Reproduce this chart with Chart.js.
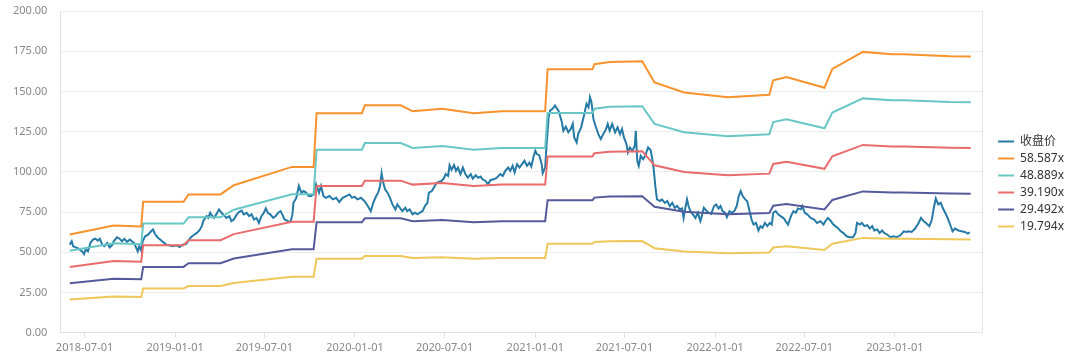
<!DOCTYPE html>
<html>
<head>
<meta charset="utf-8">
<title>PE Band</title>
<script src="https://cdn.jsdelivr.net/npm/chart.js@4.4.0/dist/chart.umd.min.js"></script>
<style>
  html, body { margin: 0; padding: 0; background: #fff; }
</style>
</head>
<body>
<canvas id="peChart" width="1080" height="361"></canvas>
<script>
// x values are day offsets from BASE_DATE
const BASE_DATE = '2018-07-01';

const tickDates = ['2018-07-01', '2019-01-01', '2019-07-01', '2020-01-01', '2020-07-01',
    '2021-01-01', '2021-07-01', '2022-01-01', '2022-07-01', '2023-01-01'];

const yTicks = [0, 25, 50, 75, 100, 125, 150, 175, 200];

const seriesNames = ['收盘价', '58.587x', '48.889x', '39.190x', '29.492x', '19.794x'];
const peMultiples = [58.587, 48.889, 39.190, 29.492, 19.794];
const seriesColors = ['#267aa6', '#f7922d', '#68c7c4', '#e96b6b', '#555a9b', '#eec65a'];

// [day, close]
const closePrice = [[-30,54.8],[-26,56.9],[-23,53.8],[-18,53.1],[-12,52.3],[-5,50.6],[-1,48.9],[2,51.7],[7,50.6],[12,55.8],[17,57.9],[22,58.5],[27,57.3],[31,58.5],[36,54.8],[40,53.8],[46,55.8],[51,53.1],[56,54.4],[59,56.9],[66,59.4],[71,58.5],[76,56.9],[81,58.5],[86,56.5],[92,57.9],[96,56.9],[101,55.8],[105,52.7],[108,50.6],[111,53.8],[115,51.1],[118,56.9],[123,60.0],[129,61.0],[135,63.1],[139,64.2],[143,61.4],[148,59.4],[154,57.9],[159,56.5],[166,54.8],[172,54.4],[179,53.8],[187,54.4],[193,53.3],[199,54.8],[206,55.2],[211,57.3],[216,59.4],[221,60.6],[228,62.1],[233,63.6],[238,66.3],[241,69.4],[245,71.4],[248,72.5],[251,71.4],[255,74.6],[258,73.1],[263,71.4],[268,73.9],[273,76.7],[278,74.6],[283,73.1],[288,71.4],[294,72.5],[298,69.4],[303,70.4],[309,73.6],[314,75.2],[319,76.0],[323,73.6],[329,74.6],[334,72.5],[339,73.6],[344,70.4],[349,71.4],[354,68.3],[359,72.5],[364,74.6],[368,77.3],[372,74.6],[377,73.6],[383,71.4],[388,72.5],[393,74.6],[398,75.6],[402,73.1],[406,70.4],[413,69.4],[418,68.9],[422,73.6],[424,80.8],[430,83.9],[435,91.3],[440,87.1],[445,88.1],[450,87.1],[455,85.0],[460,85.0],[465,86.0],[470,92.3],[476,87.1],[480,91.3],[485,85.0],[490,83.9],[497,85.0],[504,82.9],[511,83.9],[517,81.3],[524,83.9],[531,85.0],[538,86.0],[543,83.9],[548,84.6],[554,82.9],[561,83.9],[568,81.9],[575,78.8],[581,75.6],[586,80.8],[592,85.0],[596,87.1],[600,91.3],[603,99.2],[606,93.8],[610,89.2],[615,87.1],[620,83.9],[625,79.8],[631,76.7],[635,79.8],[640,77.7],[645,75.6],[651,77.7],[655,75.6],[660,76.7],[666,73.6],[671,74.6],[676,73.6],[680,74.6],[686,75.6],[691,78.8],[696,80.8],[699,87.1],[705,88.1],[709,90.2],[714,92.9],[719,93.8],[725,94.4],[730,96.4],[733,98.6],[738,97.5],[741,104.2],[745,101.3],[750,104.2],[754,100.6],[758,102.7],[763,98.6],[768,102.7],[773,98.6],[778,96.4],[784,98.6],[788,95.8],[794,97.9],[799,96.4],[804,97.1],[808,95.4],[814,94.4],[819,92.3],[824,95.0],[831,95.4],[837,96.4],[844,98.6],[849,97.5],[854,100.6],[860,102.7],[864,100.6],[869,103.8],[873,99.6],[878,104.8],[883,102.7],[888,104.8],[893,106.9],[898,103.8],[903,105.8],[907,103.3],[911,108.9],[915,113.1],[918,111.1],[923,110.4],[928,104.8],[930,99.2],[935,102.7],[938,117.3],[942,133.9],[945,138.1],[950,139.2],[955,141.3],[958,139.8],[962,138.1],[965,135.0],[969,130.8],[972,125.6],[977,128.1],[982,124.6],[987,126.7],[991,129.8],[994,121.4],[999,118.3],[1002,123.5],[1008,127.7],[1013,133.9],[1016,138.1],[1019,142.3],[1023,140.2],[1026,146.4],[1029,143.3],[1033,132.9],[1037,128.8],[1043,123.5],[1048,120.4],[1053,123.5],[1058,126.1],[1062,129.8],[1066,125.6],[1071,129.8],[1077,124.6],[1082,127.7],[1087,123.5],[1091,126.7],[1095,121.4],[1100,117.3],[1103,112.1],[1107,115.2],[1112,113.1],[1117,116.3],[1119,125.6],[1122,106.9],[1125,103.8],[1129,110.0],[1134,107.9],[1138,110.0],[1144,115.2],[1149,113.6],[1152,108.9],[1155,102.7],[1159,90.2],[1162,82.9],[1168,81.9],[1172,82.9],[1178,80.8],[1183,81.9],[1188,78.8],[1193,80.8],[1198,77.7],[1203,78.8],[1208,76.7],[1213,77.3],[1216,71.4],[1219,76.7],[1223,82.9],[1226,78.8],[1230,75.6],[1235,73.6],[1240,71.4],[1245,74.6],[1250,69.4],[1253,72.5],[1257,77.7],[1262,76.0],[1267,74.6],[1272,73.9],[1278,78.8],[1282,79.8],[1287,77.3],[1291,78.8],[1295,75.6],[1300,74.6],[1304,71.9],[1309,75.6],[1314,74.6],[1319,75.6],[1324,78.8],[1328,85.0],[1332,88.1],[1336,85.0],[1341,82.9],[1345,81.9],[1350,75.6],[1354,70.4],[1358,67.3],[1363,68.3],[1368,63.6],[1372,66.3],[1376,65.2],[1381,68.3],[1386,66.3],[1391,68.3],[1395,67.3],[1398,74.6],[1403,75.6],[1408,73.6],[1413,72.5],[1420,71.0],[1423,69.4],[1428,67.3],[1434,72.5],[1439,75.6],[1444,74.6],[1448,77.3],[1454,76.7],[1457,78.8],[1462,74.6],[1467,73.6],[1474,71.4],[1481,70.4],[1487,68.3],[1494,69.4],[1500,67.3],[1504,69.4],[1509,71.4],[1514,69.8],[1520,67.3],[1524,66.3],[1529,65.2],[1535,63.1],[1540,62.1],[1547,60.0],[1553,59.4],[1560,59.4],[1565,62.1],[1568,68.3],[1574,67.3],[1578,68.3],[1583,66.3],[1589,66.9],[1594,64.8],[1599,66.3],[1603,63.6],[1609,64.2],[1614,62.1],[1619,63.6],[1623,62.1],[1629,61.1],[1636,59.4],[1642,60.0],[1649,59.4],[1656,60.6],[1663,63.1],[1668,62.7],[1673,63.1],[1679,62.7],[1686,64.8],[1693,68.3],[1698,71.4],[1703,69.4],[1708,68.3],[1715,66.3],[1720,70.4],[1724,77.7],[1728,83.5],[1733,79.8],[1738,80.8],[1742,77.7],[1747,74.6],[1752,71.4],[1757,67.3],[1762,63.1],[1767,64.8],[1774,63.6],[1780,63.1],[1787,62.7],[1793,61.7],[1797,62.5]];

// [day, eps] - band = multiple * eps
const epsTrail = [[-30,1.043],[59,1.138],[115,1.127],[119,1.389],[201,1.389],[211,1.468],[276,1.468],[303,1.565],[421,1.760],[465,1.760],[471,2.328],[563,2.328],[569,2.413],[642,2.413],[666,2.350],[726,2.376],[790,2.328],[847,2.350],[935,2.350],[940,2.795],[1031,2.795],[1035,2.849],[1066,2.873],[1132,2.880],[1157,2.656],[1217,2.550],[1306,2.499],[1390,2.524],[1398,2.678],[1425,2.714],[1502,2.600],[1518,2.799],[1580,2.980],[1639,2.955],[1663,2.955],[1757,2.934],[1799,2.931]];

const DAY_MS = 86400000;
const baseMs = Date.parse(BASE_DATE + 'T00:00:00Z');
const toDay = s => (Date.parse(s + 'T00:00:00Z') - baseMs) / DAY_MS;
const toDateStr = d => new Date(baseMs + d * DAY_MS).toISOString().slice(0, 10);

const FONT = '"Noto Sans", "Noto Sans CJK SC", sans-serif';
const AXIS_COLOR = '#dce2f0';

const datasets = [{
    label: seriesNames[0],
    data: closePrice.map(p => ({ x: p[0], y: p[1] })),
    borderColor: seriesColors[0],
    backgroundColor: seriesColors[0],
    order: 1
}];

peMultiples.forEach((m, i) => {
    datasets.push({
        label: seriesNames[i + 1],
        data: epsTrail.map(p => ({ x: p[0], y: m * p[1] })),
        borderColor: seriesColors[i + 1],
        backgroundColor: seriesColors[i + 1],
        order: 0
    });
});

datasets.forEach(ds => {
    ds.borderWidth = 2;
    ds.pointRadius = 0;
    ds.tension = 0;
    ds.fill = false;
});

new Chart(document.getElementById('peChart'), {
    type: 'line',
    data: { datasets: datasets },
    options: {
        responsive: false,
        animation: false,
        layout: { padding: { left: 0, top: 11, bottom: 4, right: 6 } },
        plugins: {
            tooltip: { enabled: false },
            legend: {
                position: 'right',
                align: 'center',
                labels: {
                    usePointStyle: true,
                    pointStyle: 'line',
                    pointStyleWidth: 16,
                    padding: 5,
                    color: '#333',
                    font: { family: FONT, size: 12 },
                    sort: (a, b) => a.datasetIndex - b.datasetIndex
                }
            }
        },
        scales: {
            x: {
                type: 'linear',
                min: toDay('2018-05-13'),
                max: toDay('2023-06-27'),
                afterBuildTicks: axis => {
                    axis.ticks = tickDates.map(s => ({ value: toDay(s) }));
                },
                ticks: {
                    callback: v => toDateStr(v),
                    color: '#888',
                    font: { family: FONT, size: 11 },
                    padding: 3,
                    maxRotation: 0,
                    autoSkip: false
                },
                grid: { drawOnChartArea: false, drawTicks: true, tickLength: 5, tickColor: AXIS_COLOR },
                border: { color: AXIS_COLOR }
            },
            y: {
                min: 0,
                max: 200,
                afterBuildTicks: axis => {
                    axis.ticks = yTicks.map(v => ({ value: v }));
                },
                // label padding should not push the plot top down
                afterFit: axis => {
                    axis.paddingTop = 0;
                    axis.paddingBottom = 0;
                },
                ticks: {
                    callback: v => v.toFixed(2),
                    color: '#888',
                    font: { family: FONT, size: 11 },
                    padding: 13
                },
                grid: { color: '#ececec', drawTicks: false },
                border: { color: AXIS_COLOR }
            },
            // thin frame line on the right edge of the plot
            yRight: {
                position: 'right',
                min: 0,
                max: 200,
                ticks: { display: false },
                grid: { display: false, drawTicks: false },
                border: { display: true, color: '#e4e4e4' },
                afterFit: axis => { axis.width = 11; }
            }
        }
    }
});
</script>
</body>
</html>
